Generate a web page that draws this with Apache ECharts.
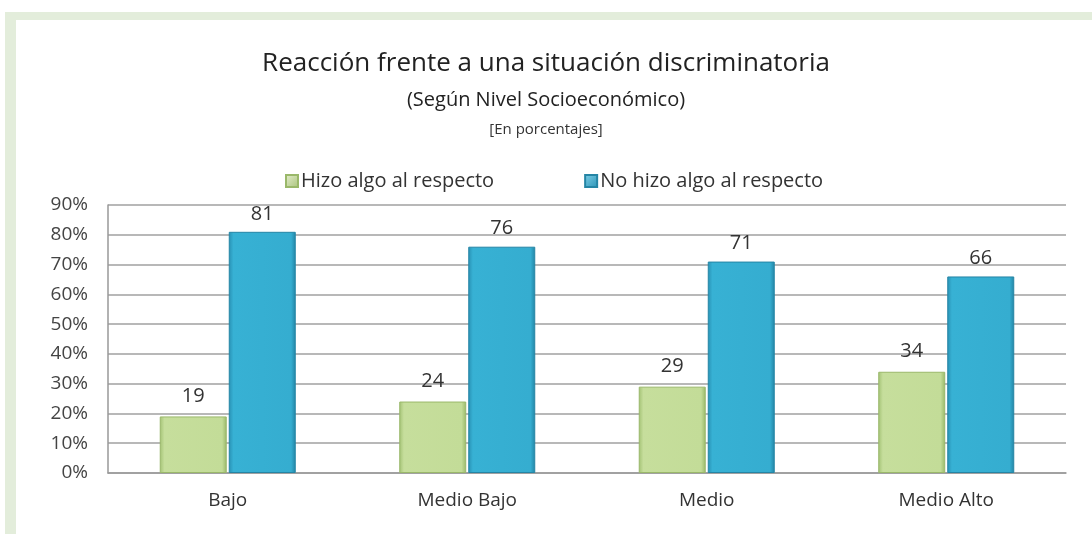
<!DOCTYPE html>
<html><head><meta charset="utf-8">
<script src="https://cdn.jsdelivr.net/npm/echarts@6/dist/echarts.min.js"></script>
<style>html,body{margin:0;padding:0;background:#fff}#c{width:1092px;height:534px}</style>
</head><body><div id="c"></div>
<script>
const categories = ['Bajo', 'Medio Bajo', 'Medio', 'Medio Alto'];
const hizoAlgo = [19, 24, 29, 34];
const noHizoAlgo = [81, 76, 71, 66];
const yTicks = [0, 10, 20, 30, 40, 50, 60, 70, 80, 90];
const FONT = '"Open Sans", sans-serif';

const green = new echarts.graphic.LinearGradient(0, 0, 1, 0, [
  {offset: 0, color: '#a3c274'}, {offset: 0.07, color: '#c6de9c'},
  {offset: 0.93, color: '#c3dc98'}, {offset: 1, color: '#98b868'}]);
const blue = new echarts.graphic.LinearGradient(0, 0, 1, 0, [
  {offset: 0, color: '#2890b3'}, {offset: 0.07, color: '#37b1d4'},
  {offset: 0.93, color: '#35add0'}, {offset: 1, color: '#2384a4'}]);
const greenIcon = new echarts.graphic.LinearGradient(0, 0, 1, 1, [
  {offset: 0, color: '#e6efcf'}, {offset: 1, color: '#a8c27a'}]);
const blueIcon = new echarts.graphic.LinearGradient(0, 0, 1, 1, [
  {offset: 0, color: '#7fd0e8'}, {offset: 1, color: '#2a92b5'}]);

const chart = echarts.init(document.getElementById('c'));
chart.setOption({
  backgroundColor: '#ffffff',
  animation: false,
  graphic: [
    {type: 'rect', shape: {x: 5, y: 12, width: 1087, height: 8}, style: {fill: '#e3eddb'}, z: -10},
    {type: 'rect', shape: {x: 5, y: 12, width: 11, height: 522}, style: {fill: '#e3eddb'}, z: -10},
    {type: 'text', left: 'center', top: 51, style: {text: 'Reacción frente a una situación discriminatoria', font: '26px ' + FONT, fill: '#222'}},
    {type: 'text', left: 'center', top: 90, style: {text: '(Según Nivel Socioeconómico)', font: '20px ' + FONT, fill: '#222'}},
    {type: 'text', left: 'center', top: 122, style: {text: '[En porcentajes]', font: '15px ' + FONT, fill: '#333'}}
  ],
  legend: {
    top: 166, left: 280, itemGap: 90, itemWidth: 12, itemHeight: 12,
    textStyle: {fontFamily: FONT, fontSize: 20, color: '#333', padding: [0, 0, 0, -2]},
    data: [
      {name: 'Hizo algo al respecto', icon: 'rect', itemStyle: {color: greenIcon}},
      {name: 'No hizo algo al respecto', icon: 'rect', itemStyle: {color: blueIcon}}
    ]
  },
  grid: {left: 108, right: 26, top: 205, bottom: 61},
  xAxis: {
    type: 'category', data: categories,
    axisLine: {lineStyle: {color: '#999', width: 1.5}},
    axisTick: {show: false},
    axisLabel: {fontFamily: FONT, fontSize: 19, color: '#333', margin: 18}
  },
  yAxis: {
    type: 'value', min: 0, max: 90, interval: 10,
    axisLine: {show: true, lineStyle: {color: '#999', width: 1.5}},
    axisTick: {show: false},
    splitLine: {lineStyle: {color: '#a0a0a0', width: 1.5}},
    axisLabel: {fontFamily: FONT, fontSize: 19, color: '#444', margin: 20,
      formatter: v => yTicks.includes(v) ? v + '%' : ''}
  },
  series: [
    {name: 'Hizo algo al respecto', type: 'bar', data: hizoAlgo, barWidth: 67, barGap: '3%',
     itemStyle: {color: green, borderColor: '#9ab86a', borderWidth: 1},
     label: {show: true, position: 'top', distance: 10, fontFamily: FONT, fontSize: 20, color: '#333'}},
    {name: 'No hizo algo al respecto', type: 'bar', data: noHizoAlgo, barWidth: 67,
     itemStyle: {color: blue, borderColor: '#2585a5', borderWidth: 1},
     label: {show: true, position: 'top', distance: 8, fontFamily: FONT, fontSize: 20, color: '#333'}}
  ]
});
</script></body></html>
